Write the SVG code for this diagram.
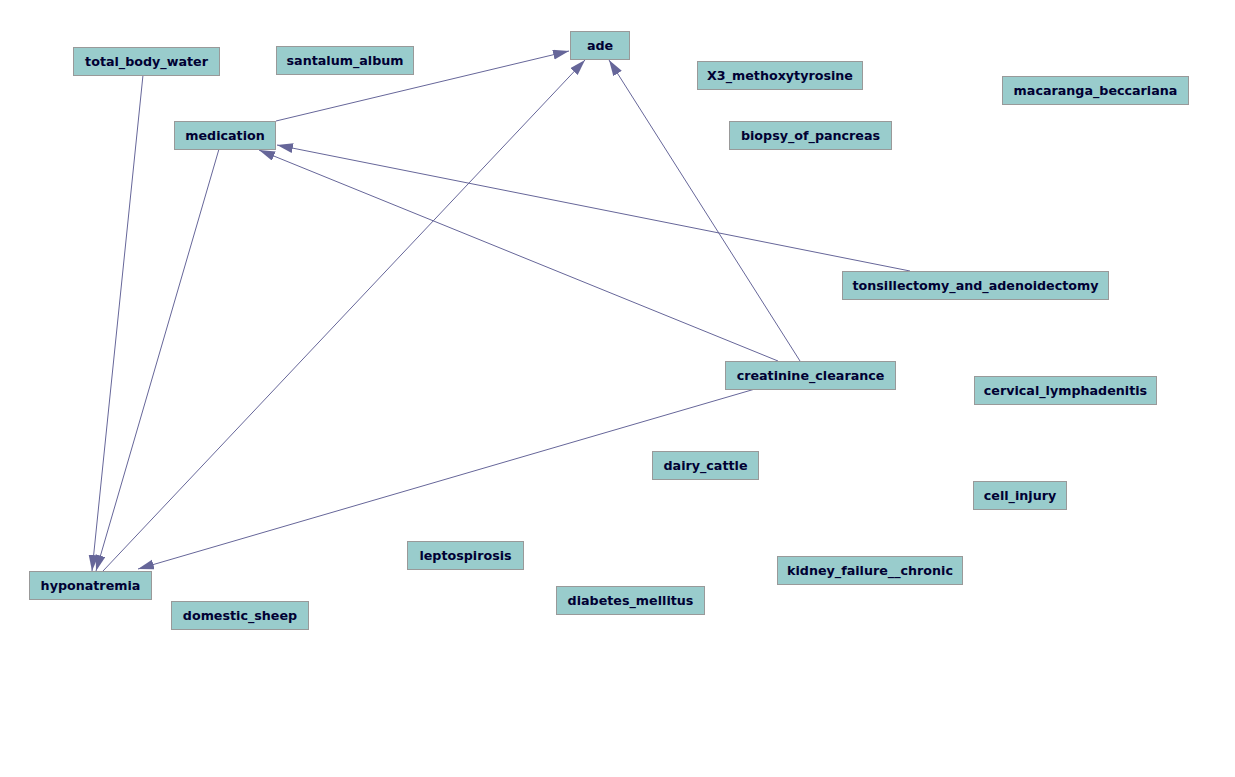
<svg xmlns="http://www.w3.org/2000/svg" width="1235" height="777" viewBox="0 0 1235 777">
<style>
.n rect{fill:#99cccc;stroke:#999999;stroke-width:1}
.n text{font-family:"DejaVu Sans",Verdana,sans-serif;font-weight:bold;font-size:12.7px;fill:#000033;text-anchor:middle}
.e line{stroke:#666699;stroke-width:1;fill:none;marker-end:url(#ah)}
</style>
<defs>
<marker id="ah" markerUnits="userSpaceOnUse" markerWidth="17" markerHeight="11" refX="16" refY="5" orient="auto" viewBox="0 0 17 11">
<path d="M0,0 L16,5 L0,10 z" fill="#666699"/>
</marker>
</defs>
<rect width="1235" height="777" fill="#ffffff"/>
<g id="connectors" class="e">
<line x1="143" y1="75" x2="92" y2="571"/>
<line x1="219" y1="149" x2="96" y2="571"/>
<line x1="276" y1="121" x2="569" y2="51"/>
<line x1="103" y1="571" x2="585" y2="60"/>
<line x1="800" y1="361" x2="609" y2="60"/>
<line x1="778" y1="361" x2="259" y2="150"/>
<line x1="910" y1="271" x2="277" y2="145"/>
<line x1="755" y1="389" x2="138" y2="569"/>
</g>
<g id="total_body_water" class="n"><rect x="73.5" y="47.5" width="146" height="28"/><text x="146.5" y="66">total_body_water</text></g>
<g id="santalum_album" class="n"><rect x="276.5" y="46.5" width="137" height="28"/><text x="345" y="65">santalum_album</text></g>
<g id="medication" class="n"><rect x="174.5" y="121.5" width="101" height="28"/><text x="225" y="140">medication</text></g>
<g id="ade" class="n"><rect x="570.5" y="31.5" width="59" height="28"/><text x="600" y="50">ade</text></g>
<g id="X3_methoxytyrosine" class="n"><rect x="697.5" y="61.5" width="165" height="28"/><text x="780" y="80">X3_methoxytyrosine</text></g>
<g id="macaranga_beccariana" class="n"><rect x="1002.5" y="76.5" width="186" height="28"/><text x="1095.5" y="95">macaranga_beccariana</text></g>
<g id="biopsy_of_pancreas" class="n"><rect x="729.5" y="121.5" width="162" height="28"/><text x="810.5" y="140">biopsy_of_pancreas</text></g>
<g id="tonsillectomy_and_adenoidectomy" class="n"><rect x="842.5" y="271.5" width="266" height="28"/><text x="975.5" y="290">tonsillectomy_and_adenoidectomy</text></g>
<g id="creatinine_clearance" class="n"><rect x="725.5" y="361.5" width="170" height="28"/><text x="810.5" y="380">creatinine_clearance</text></g>
<g id="cervical_lymphadenitis" class="n"><rect x="974.5" y="376.5" width="182" height="28"/><text x="1065.5" y="395">cervical_lymphadenitis</text></g>
<g id="dairy_cattle" class="n"><rect x="652.5" y="451.5" width="106" height="28"/><text x="705.5" y="470">dairy_cattle</text></g>
<g id="cell_injury" class="n"><rect x="973.5" y="481.5" width="93" height="28"/><text x="1020" y="500">cell_injury</text></g>
<g id="leptospirosis" class="n"><rect x="407.5" y="541.5" width="116" height="28"/><text x="465.5" y="560">leptospirosis</text></g>
<g id="kidney_failure__chronic" class="n"><rect x="777.5" y="556.5" width="185" height="28"/><text x="870" y="575">kidney_failure__chronic</text></g>
<g id="hyponatremia" class="n"><rect x="29.5" y="571.5" width="122" height="28"/><text x="90.5" y="590">hyponatremia</text></g>
<g id="diabetes_mellitus" class="n"><rect x="556.5" y="586.5" width="148" height="28"/><text x="630.5" y="605">diabetes_mellitus</text></g>
<g id="domestic_sheep" class="n"><rect x="171.5" y="601.5" width="137" height="28"/><text x="240" y="620">domestic_sheep</text></g>
</svg>
